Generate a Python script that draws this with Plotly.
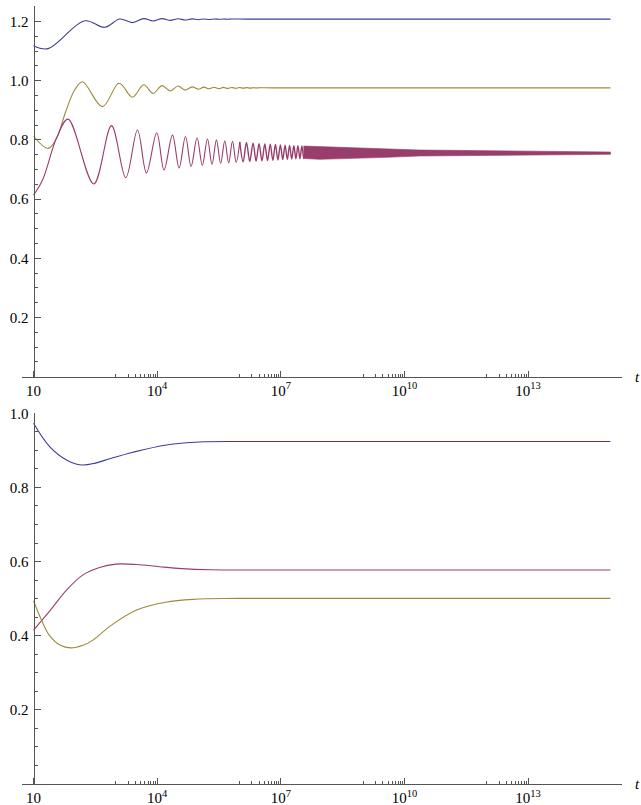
import plotly.graph_objects as go

# ---------------- data (log10 t positions and values) ----------------
# Top panel
top_blue_logt = [1.0, 1.352, 2.243, 2.728, 3.092, 3.40, 3.675, 3.90, 4.12, 4.32, 4.507, 4.677,
                 4.85, 5.0, 5.131, 5.26, 5.381, 5.50, 5.609, 5.71, 5.811, 6.2, 15.0]
top_blue_val = [1.118, 1.108, 1.202, 1.180, 1.208, 1.196, 1.2095, 1.2015, 1.2095, 1.2035, 1.209, 1.2048,
                1.2085, 1.2058, 1.2083, 1.2065, 1.2081, 1.207, 1.208, 1.2073, 1.2079, 1.2077, 1.2077]

top_olive_logt = [1.0, 1.352, 1.556, 1.78, 2.0, 2.187, 2.672, 3.075, 3.40, 3.675, 3.90, 4.12, 4.32, 4.507,
                  4.677, 4.85, 5.0, 5.131, 5.26, 5.381, 5.50, 5.609, 5.71, 5.811, 5.90, 5.997, 6.09,
                  6.175, 6.26, 6.337, 6.41, 6.49, 6.8, 15.0]
top_olive_val = [0.813, 0.771, 0.805, 0.895, 0.969, 0.996, 0.912, 0.991, 0.944, 0.986, 0.957, 0.983, 0.965, 0.982,
                 0.968, 0.979, 0.971, 0.978, 0.9725, 0.9775, 0.973, 0.977, 0.9738, 0.9768, 0.9742, 0.9765, 0.9746,
                 0.9763, 0.9748, 0.9761, 0.975, 0.976, 0.9755, 0.9755]

# resolved oscillations of the magenta curve (alternating extrema)
top_mag_logt = [1.0, 1.218, 1.556, 1.837, 2.461, 2.891, 3.238, 3.522, 3.740, 3.990, 4.167, 4.371, 4.532,
                4.687, 4.823, 4.968, 5.095, 5.221, 5.330, 5.439, 5.540, 5.641, 5.735, 5.828, 5.917,
                6.005]
top_mag_val = [0.613, 0.664, 0.805, 0.870, 0.651, 0.848, 0.672, 0.833, 0.688, 0.824, 0.698, 0.816, 0.705,
               0.811, 0.710, 0.807, 0.714, 0.803, 0.717, 0.800, 0.720, 0.797, 0.722, 0.795, 0.724,
               0.793]
# faster, still visible oscillations
top_mag2_logt = [6.005, 6.086, 6.167, 6.247, 6.327, 6.400, 6.473, 6.543, 6.612, 6.678, 6.744, 6.807,
                 6.870, 6.930, 6.990, 7.047, 7.104, 7.159, 7.213, 7.265, 7.317, 7.367, 7.416, 7.464,
                 7.511, 7.557, 7.602]
top_mag2_val = [0.793, 0.726, 0.791, 0.727, 0.789, 0.728, 0.787, 0.729, 0.786, 0.730, 0.785, 0.731,
                0.784, 0.732, 0.783, 0.733, 0.782, 0.734, 0.781, 0.735, 0.780, 0.736, 0.780, 0.736,
                0.779, 0.737, 0.779]

# envelope of the unresolved fast oscillation of the magenta curve
band_logt = [7.55, 7.95, 8.75, 9.57, 10.37, 11.17, 11.83, 12.80, 13.60, 15.0]
band_upper = [0.779, 0.7769, 0.7735, 0.7690, 0.7656, 0.7645, 0.7634, 0.7611, 0.7600, 0.7589]
band_lower = [0.737, 0.7341, 0.7363, 0.7409, 0.7454, 0.7465, 0.7476, 0.7487, 0.7499, 0.7510]

# Bottom panel
bot_blue_logt = [1.0, 1.39, 1.8, 2.163, 2.5, 2.85, 3.415, 4.226, 5.03, 6.0, 8.0, 15.0]
bot_blue_val = [0.973, 0.910, 0.874, 0.8605, 0.8655, 0.8775, 0.895, 0.9145, 0.9225, 0.9238, 0.9238, 0.9238]

bot_mag_logt = [1.0, 1.39, 1.8, 2.2, 2.6, 3.0, 3.5, 4.06, 4.6, 5.28, 6.5, 15.0]
bot_mag_val = [0.415, 0.466, 0.523, 0.564, 0.584, 0.593, 0.592, 0.586, 0.581, 0.578, 0.5773, 0.5773]

bot_olive_logt = [1.0, 1.2, 1.39, 1.65, 1.9, 2.2, 2.444, 2.85, 3.5, 4.2, 4.87, 6.0, 15.0]
bot_olive_val = [0.494, 0.44, 0.40, 0.374, 0.367, 0.374, 0.388, 0.425, 0.469, 0.490, 0.498, 0.5005, 0.5005]

x_tick_vals = [10, 1e4, 1e7, 1e10, 1e13]
x_tick_text = ["10", "10<sup>4</sup>", "10<sup>7</sup>", "10<sup>10</sup>", "10<sup>13</sup>"]
top_y_ticks = [0.2, 0.4, 0.6, 0.8, 1.0, 1.2]
bot_y_ticks = [0.2, 0.4, 0.6, 0.8, 1.0]

# ---------------- styling ----------------
BLUE = "#3d3d99"
MAG = "#993d6d"
OLIVE = "#998c3d"
AX = "#555555"
FONT = "Liberation Serif"

W, H = 641, 805
ML, MR = 22, 19
XR = [0.72, 15.28]


def tv(lst):
    return [10 ** v for v in lst]


fig = go.Figure()

def curve(xl, yv, color, xa, ya, width=1.1):
    fig.add_trace(go.Scatter(x=tv(xl), y=yv, mode="lines",
                             line=dict(color=color, width=width, shape="spline", smoothing=1.0),
                             xaxis=xa, yaxis=ya, hoverinfo="skip"))

curve(top_blue_logt, top_blue_val, BLUE, "x", "y")
curve(top_olive_logt, top_olive_val, OLIVE, "x", "y")
curve(top_mag_logt, top_mag_val, MAG, "x", "y")
curve(top_mag2_logt, top_mag2_val, MAG, "x", "y", width=1.4)

# magenta dense band
bx = tv(band_logt) + tv(band_logt[::-1])
by = band_upper + band_lower[::-1]
fig.add_trace(go.Scatter(x=bx, y=by, mode="lines", fill="toself", fillcolor=MAG,
                         line=dict(color=MAG, width=0.6), xaxis="x", yaxis="y", hoverinfo="skip"))

curve(bot_blue_logt, bot_blue_val, BLUE, "x2", "y2")
curve(bot_mag_logt, bot_mag_val, MAG, "x2", "y2")
curve(bot_olive_logt, bot_olive_val, OLIVE, "x2", "y2")

# pixel helpers
def py(px):
    return 1 - px / H

yaxis_pos = (1 - XR[0]) / (XR[1] - XR[0])

x_minor = [k * 10 ** d for d in (3, 6, 9, 12) for k in range(1, 10)]

def xaxis_cfg(anchor):
    return dict(type="log", range=XR, domain=[0, 1], anchor=anchor,
                showline=True, linecolor=AX, linewidth=1,
                ticks="inside", ticklen=6, tickcolor=AX, tickwidth=1,
                tickvals=x_tick_vals, ticktext=x_tick_text,
                tickfont=dict(family=FONT, size=15, color="black"),
                minor=dict(tickvals=x_minor, ticks="inside", ticklen=3, tickcolor=AX, showgrid=False),
                showgrid=False, zeroline=False, automargin=False)

def yaxis_cfg(domain, rng, ticks, minor):
    return dict(domain=domain, range=rng, anchor="free", position=yaxis_pos,
                showline=True, linecolor=AX, linewidth=1,
                ticks="inside", ticklen=6, tickcolor=AX, tickwidth=1,
                tickvals=ticks, ticktext=["%.1f" % v for v in ticks],
                tickfont=dict(family=FONT, size=15, color="black"),
                ticklabelstandoff=2,
                minor=dict(tickvals=minor, ticks="inside", ticklen=3, tickcolor=AX, showgrid=False),
                showgrid=False, zeroline=False, automargin=False)

top_minor = [round(0.05 * i, 2) for i in range(1, 26) if i % 4 != 0]
bot_minor = [round(0.05 * i, 2) for i in range(1, 20) if i % 4 != 0]

top_dom = [py(376.7), py(6.0)]
bot_dom = [py(783.9), py(413.3)]

fig.update_layout(
    width=W, height=H,
    margin=dict(l=ML, r=MR, t=0, b=0, autoexpand=False),
    paper_bgcolor="white", plot_bgcolor="white",
    showlegend=False,
    xaxis=xaxis_cfg("y"),
    yaxis=yaxis_cfg(top_dom, [0, 1.252], top_y_ticks, top_minor),
    xaxis2=xaxis_cfg("y2"),
    yaxis2=yaxis_cfg(bot_dom, [0, 1.0], bot_y_ticks, bot_minor),
)

tx = (637 - ML) / (W - ML - MR)
for yb in (top_dom[0], bot_dom[0]):
    fig.add_annotation(xref="paper", yref="paper", x=tx, y=yb, text="<i>t</i>",
                       showarrow=False, xanchor="center", yanchor="middle",
                       font=dict(family=FONT, size=15, color="black"))

fig.write_html("out.html", config={"displayModeBar": False},
               post_script="document.body.style.margin='0px';document.body.style.overflow='hidden';")
